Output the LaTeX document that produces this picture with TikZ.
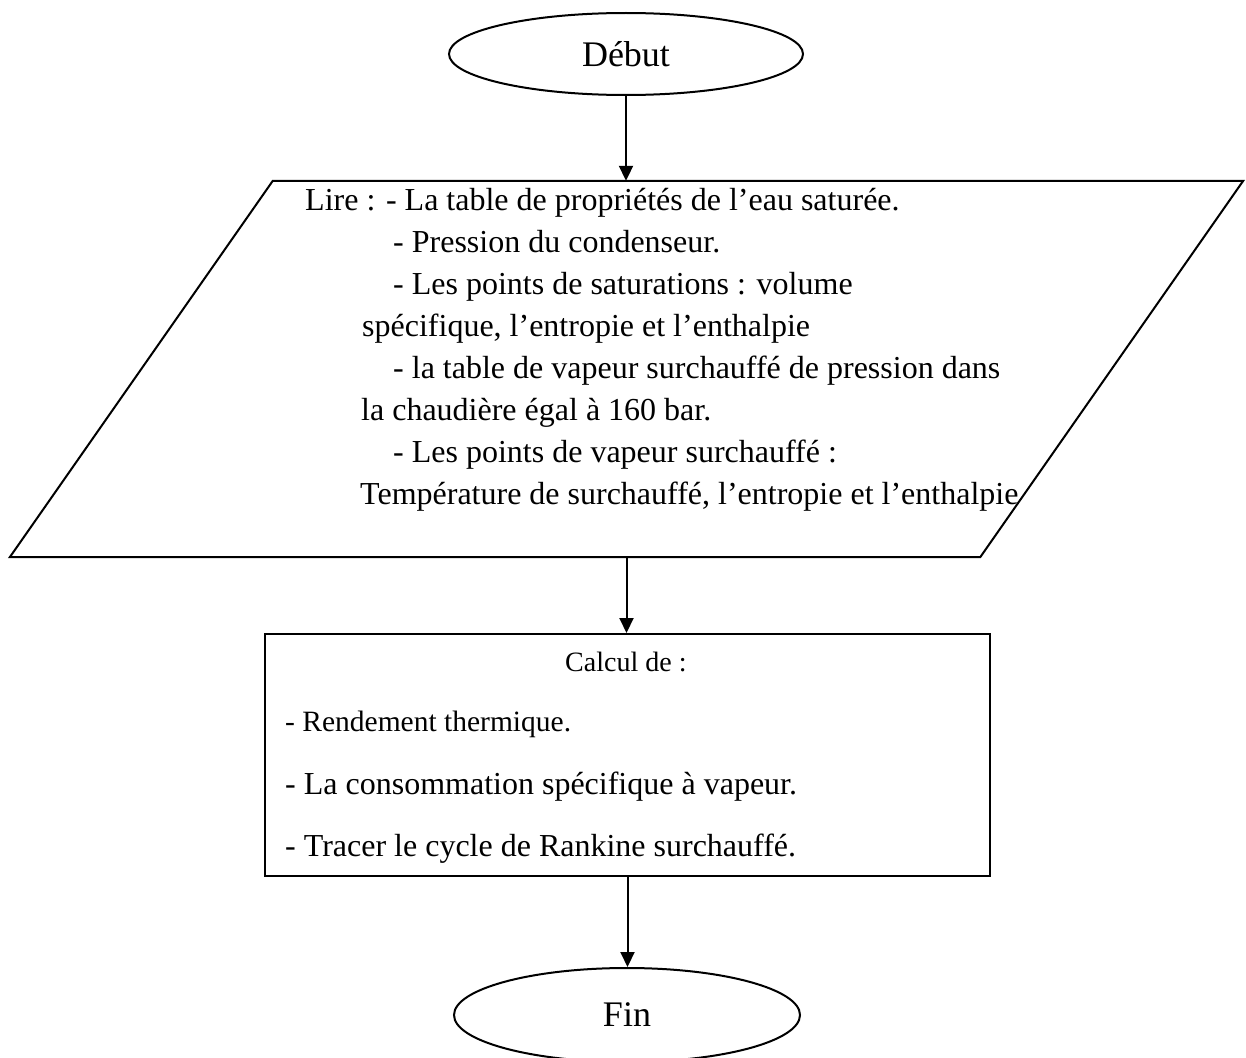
\documentclass[tikz,border=0pt]{standalone}
\usepackage{fontspec}
\setmainfont{Liberation Serif}[Ligatures={TeX,NoCommon}]
\usetikzlibrary{shapes.geometric,arrows.meta,calc}

\begin{document}
\begin{tikzpicture}[x=1pt,y=-1pt,
  outline/.style={draw=black, line width=2pt},
  terminal/.style={outline, ellipse, inner sep=0pt,
    font=\fontsize{36}{43}\selectfont},
  flow/.style={line width=2pt, -{Triangle[length=15pt,width=14pt]}},
  txt/.style={anchor=base west, inner sep=0pt, font=\fontsize{32}{38}\selectfont},
  smalltxt/.style={anchor=base west, inner sep=0pt, font=\fontsize{29.5}{35}\selectfont},
  headtxt/.style={anchor=base west, inner sep=0pt, font=\fontsize{28}{33}\selectfont}
]
\useasboundingbox (0,0) rectangle (1246,1057);
\fill[white] (0,0) rectangle (1246,1057);
\clip (0,0) rectangle (1246,1057);

% start and end terminals
\node[terminal, minimum width=354pt, minimum height=82pt] (debut) at (626,54) {Début};
\node[terminal, minimum width=346pt, minimum height=94pt] (fin) at (627,1015) {Fin};

% input parallelogram
\node[inner sep=0pt, minimum width=1233pt, minimum height=376pt] (lire) at (626.5,369) {};
\draw[outline, line join=miter]
  (lire.south west) -- ($(lire.north west)+(263,0)$) -- (lire.north east)
  -- ($(lire.south east)+(-263,0)$) -- cycle;

\node[txt] (l1) at (305,210) {Lire : - La table de propriétés de l’eau saturée.};
\node[txt] (l2) at (393,252) {- Pression du condenseur.};
\node[txt] (l3) at (393,294) {- Les points de saturations : volume};
\node[txt] (l4) at (362,336) {spécifique, l’entropie et l’enthalpie};
\node[txt] (l5) at (393,378) {- la table de vapeur surchauffé de pression dans};
\node[txt] (l6) at (361,420) {la chaudière égal à 160 bar.};
\node[txt] (l7) at (393,462) {- Les points de vapeur surchauffé :};
\node[txt] (l8) at (360,504) {Température de surchauffé, l’entropie et l’enthalpie};

% processing box
\node[outline, inner sep=0pt, minimum width=725pt, minimum height=242pt] (calc) at (627.5,755) {};
\node[headtxt] (c0) at (565,671) {Calcul de :};
\node[smalltxt] (c1) at (285,731) {- Rendement thermique.};
\node[txt] (c2) at (285,794) {- La consommation spécifique à vapeur.};
\node[txt] (c3) at (285,856) {- Tracer le cycle de Rankine surchauffé.};

% connectors
\draw[flow] (debut.south) -- (debut.south |- lire.north);
\draw[flow] (lire.south) -- (lire.south |- calc.north);
\draw[flow] (calc.south) -- (calc.south |- fin.north);
\end{tikzpicture}
\end{document}
